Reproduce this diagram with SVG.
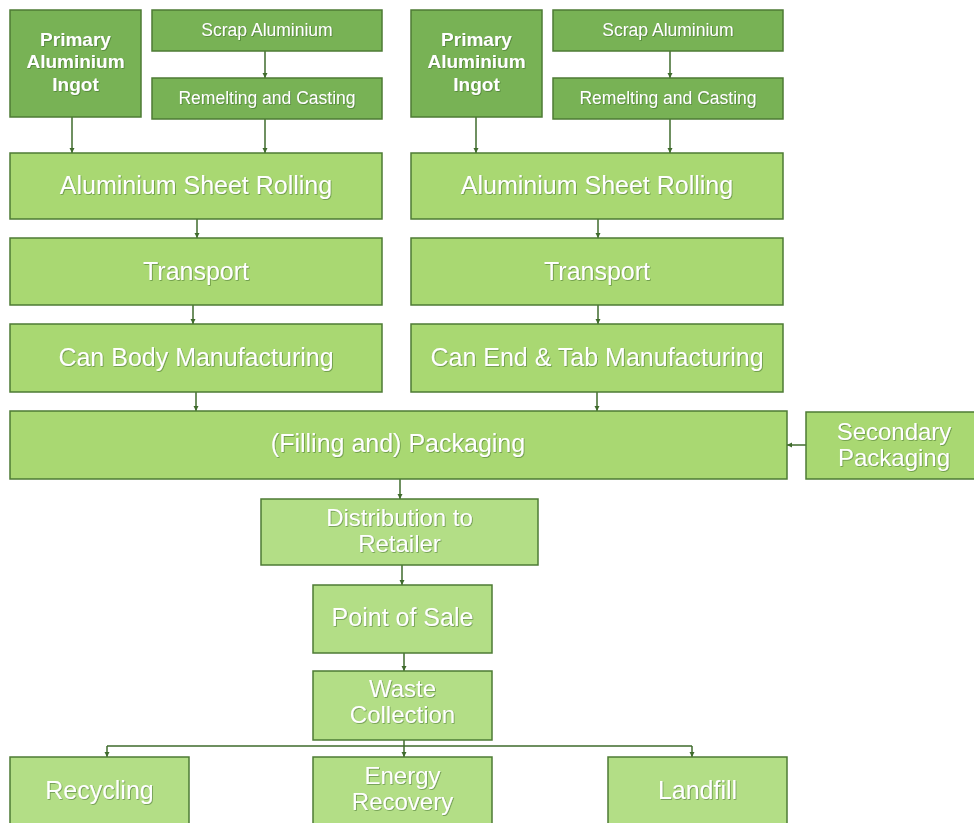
<svg xmlns="http://www.w3.org/2000/svg" width="974" height="823" viewBox="0 0 974 823">
<defs>
<marker id="arr" markerWidth="6" markerHeight="6" refX="5" refY="3" orient="auto" markerUnits="userSpaceOnUse">
<path d="M0,0.5 L5,3 L0,5.5 Z" fill="#3f6b2c"/>
</marker>
<filter id="sh" x="-5%" y="-20%" width="110%" height="140%">
<feDropShadow dx="0.8" dy="0.8" stdDeviation="0.6" flood-color="#2f5a1c" flood-opacity="0.55"/>
</filter>
</defs>
<style>
.dk{fill:#78b255;stroke:#4d7b34;stroke-width:1.5}
.lt{fill:#a9d872;stroke:#4d7b34;stroke-width:1.5}
.lt2{fill:#b3de86;stroke:#4d7b34;stroke-width:1.5}
text{font-family:"Liberation Sans",Arial,sans-serif;fill:#ffffff;text-anchor:middle;filter:url(#sh)}
.t25{font-size:25px}
.t24{font-size:24px}
.t19b{font-size:19px;font-weight:bold}
.t18{font-size:17.5px}
.cn{fill:none;stroke:#3f6b2c;stroke-width:1.5;marker-end:url(#arr)}
.ln{fill:none;stroke:#3f6b2c;stroke-width:1.5}
</style>
<rect width="974" height="823" fill="#ffffff"/>
<g id="connectors">
<path class="cn" d="M72,117 V153"/>
<path class="cn" d="M265,51 V78"/>
<path class="cn" d="M265,119 V153"/>
<path class="cn" d="M197,219 V238"/>
<path class="cn" d="M193,305 V324"/>
<path class="cn" d="M196,392 V411"/>
<path class="cn" d="M476,117 V153"/>
<path class="cn" d="M670,51 V78"/>
<path class="cn" d="M670,119 V153"/>
<path class="cn" d="M598,219 V238"/>
<path class="cn" d="M598,305 V324"/>
<path class="cn" d="M597,392 V411"/>
<path class="cn" d="M806,445 H787"/>
<path class="cn" d="M400,479 V499"/>
<path class="cn" d="M402,565 V585"/>
<path class="cn" d="M404,653 V671"/>
<path class="ln" d="M404,740 V746 M107,746 H692"/>
<path class="cn" d="M107,746 V757"/>
<path class="cn" d="M404,746 V757"/>
<path class="cn" d="M692,746 V757"/>
</g>
<g id="primary-left"><rect class="dk" x="10" y="10" width="131" height="107"/><text class="t19b" x="75.5" y="46">Primary</text><text class="t19b" x="75.5" y="68">Aluminium</text><text class="t19b" x="75.5" y="91">Ingot</text></g>
<g id="scrap-left"><rect class="dk" x="152" y="10" width="230" height="41"/><text class="t18" x="267" y="35.5">Scrap Aluminium</text></g>
<g id="remelt-left"><rect class="dk" x="152" y="78" width="230" height="41"/><text class="t18" x="267" y="103.5">Remelting and Casting</text></g>
<g id="rolling-left"><rect class="lt" x="10" y="153" width="372" height="66"/><text class="t25" x="196" y="194">Aluminium Sheet Rolling</text></g>
<g id="transport-left"><rect class="lt" x="10" y="238" width="372" height="67"/><text class="t25" x="196" y="280">Transport</text></g>
<g id="canbody"><rect class="lt" x="10" y="324" width="372" height="68"/><text class="t25" x="196" y="366">Can Body Manufacturing</text></g>
<g id="primary-right"><rect class="dk" x="411" y="10" width="131" height="107"/><text class="t19b" x="476.5" y="46">Primary</text><text class="t19b" x="476.5" y="68">Aluminium</text><text class="t19b" x="476.5" y="91">Ingot</text></g>
<g id="scrap-right"><rect class="dk" x="553" y="10" width="230" height="41"/><text class="t18" x="668" y="35.5">Scrap Aluminium</text></g>
<g id="remelt-right"><rect class="dk" x="553" y="78" width="230" height="41"/><text class="t18" x="668" y="103.5">Remelting and Casting</text></g>
<g id="rolling-right"><rect class="lt" x="411" y="153" width="372" height="66"/><text class="t25" x="597" y="194">Aluminium Sheet Rolling</text></g>
<g id="transport-right"><rect class="lt" x="411" y="238" width="372" height="67"/><text class="t25" x="597" y="280">Transport</text></g>
<g id="canend"><rect class="lt" x="411" y="324" width="372" height="68"/><text class="t25" x="597" y="366">Can End &amp; Tab Manufacturing</text></g>
<g id="packaging"><rect class="lt" x="10" y="411" width="777" height="68"/><text class="t25" x="398" y="452">(Filling and) Packaging</text></g>
<g id="secondary"><rect class="lt" x="806" y="412" width="175" height="67"/><text class="t24" x="894" y="440">Secondary</text><text class="t24" x="894" y="466">Packaging</text></g>
<g id="distribution"><rect class="lt2" x="261" y="499" width="277" height="66"/><text class="t24" x="399.5" y="526">Distribution to</text><text class="t24" x="399.5" y="552">Retailer</text></g>
<g id="pos"><rect class="lt2" x="313" y="585" width="179" height="68"/><text class="t25" x="402.5" y="626">Point of Sale</text></g>
<g id="waste"><rect class="lt2" x="313" y="671" width="179" height="69"/><text class="t24" x="402.5" y="697">Waste</text><text class="t24" x="402.5" y="723">Collection</text></g>
<g id="recycling"><rect class="lt2" x="10" y="757" width="179" height="70"/><text class="t25" x="99.5" y="799">Recycling</text></g>
<g id="energy"><rect class="lt2" x="313" y="757" width="179" height="70"/><text class="t24" x="402.5" y="784">Energy</text><text class="t24" x="402.5" y="810">Recovery</text></g>
<g id="landfill"><rect class="lt2" x="608" y="757" width="179" height="70"/><text class="t25" x="697.5" y="799">Landfill</text></g>
</svg>
